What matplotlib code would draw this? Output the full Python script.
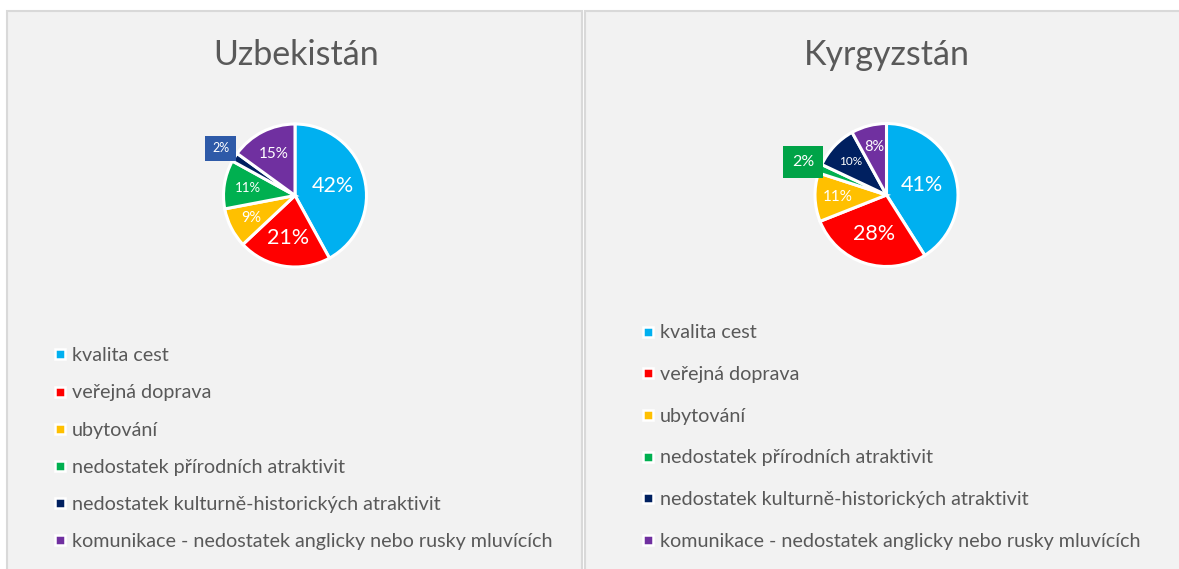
"""
Two pie charts (Uzbekistán / Kyrgyzstán) with legends below, Excel-like style
"""

import matplotlib.pyplot as plt
from matplotlib.patches import Rectangle
from matplotlib.lines import Line2D
import numpy as np

plt.rcParams['font.family'] = ['Lato', 'DejaVu Sans']

# data
categories = [
    "kvalita cest",
    "veřejná doprava",
    "ubytování",
    "nedostatek přírodních atraktivit",
    "nedostatek kulturně-historických atraktivit",
    "komunikace - nedostatek anglicky nebo rusky mluvících",
]
uzb_values = [42, 21, 9, 11, 2, 15]
kgz_values = [41, 28, 11, 2, 10, 8]
titles = ["Uzbekistán", "Kyrgyzstán"]

colors = ['#00b0f0', '#ff0000', '#ffc000', '#00b050', '#002060', '#7030a0']
text_grey = '#595959'

W, H = 1179, 569
fig = plt.figure(figsize=(W / 100, H / 100), dpi=100, facecolor='white')


def fx(px):
    return px / W


def fy(py):
    # image y (from top) -> figure fraction
    return 1 - py / H


# panel backgrounds (behind the axes)
for x0, x1 in [(7.5, 581.5), (585, 1185)]:
    fig.patches.append(Rectangle((fx(x0), fy(580)), fx(x1 - x0), (580 - 10.5) / H,
                                 transform=fig.transFigure, facecolor='#f2f2f2',
                                 edgecolor='#d9d9d9', linewidth=1.5, zorder=-5))

# per chart style: centre (px), label radius, label font size, boxed label colour
charts = [
    dict(values=uzb_values, cx=295, cy=195.5, title_x=296,
         label_r=[0.55, 0.6, 0.69, 0.67, 1.23, 0.65],
         label_fs=[15.5, 15.5, 10.5, 9.5, 9, 11],
         box_color='#2e5aa8',
         legend_xy=(53.1, 347.3), legend_ls=1.02),
    dict(values=kgz_values, cx=886.5, cy=195, title_x=887,
         label_r=[0.52, 0.57, 0.68, 1.25, 0.68, 0.69],
         label_fs=[15.5, 15.5, 11, 11.5, 8.5, 10.5],
         box_color='#00a347',
         legend_xy=(641.1, 324.5), legend_ls=1.25),
]

R = 71.5       # pie radius in px
half = 80      # half axes size in px
for title, ch in zip(titles, charts):
    ax = fig.add_axes([fx(ch['cx'] - half), fy(ch['cy'] + half), fx(2 * half), 2 * half / H])
    ax.axis('off')

    wedges, _ = ax.pie(ch['values'], colors=colors, startangle=90, counterclock=False,
                       wedgeprops=dict(edgecolor='white', linewidth=2.2))
    # pie() resets the limits, so set them afterwards
    ax.set_xlim(-half / R, half / R)
    ax.set_ylim(-half / R, half / R)
    ax.set_aspect('equal')

    for w, v, r, fs in zip(wedges, ch['values'], ch['label_r'], ch['label_fs']):
        ang = np.deg2rad((w.theta1 + w.theta2) / 2)
        x, y = r * np.cos(ang), r * np.sin(ang)
        if r > 1:
            ax.text(x, y, f"{v}%", ha='center', va='center', color='white', fontsize=fs,
                    bbox=dict(boxstyle='square,pad=0.55', facecolor=ch['box_color'],
                              edgecolor='none'), clip_on=False)
        else:
            ax.text(x, y, f"{v}%", ha='center', va='center', color='white', fontsize=fs)

    fig.text(fx(ch['title_x']), fy(55), title, ha='center', va='center',
             fontsize=24.5, color=text_grey)

    handles = [Line2D([], [], linestyle='none', marker='s', markersize=6.8,
                      markerfacecolor=c, markeredgecolor='white', markeredgewidth=1.8)
               for c in colors]
    lx, ly = ch['legend_xy']
    fig.legend(handles, categories, loc='upper left',
               bbox_to_anchor=(fx(lx), fy(ly)), bbox_transform=fig.transFigure,
               frameon=False, fontsize=14.2, labelcolor=text_grey,
               handlelength=0.7, handletextpad=0.26, labelspacing=ch['legend_ls'],
               borderpad=0, borderaxespad=0)

plt.savefig("out.png", dpi=100, facecolor='white')
print("saved out.png")
